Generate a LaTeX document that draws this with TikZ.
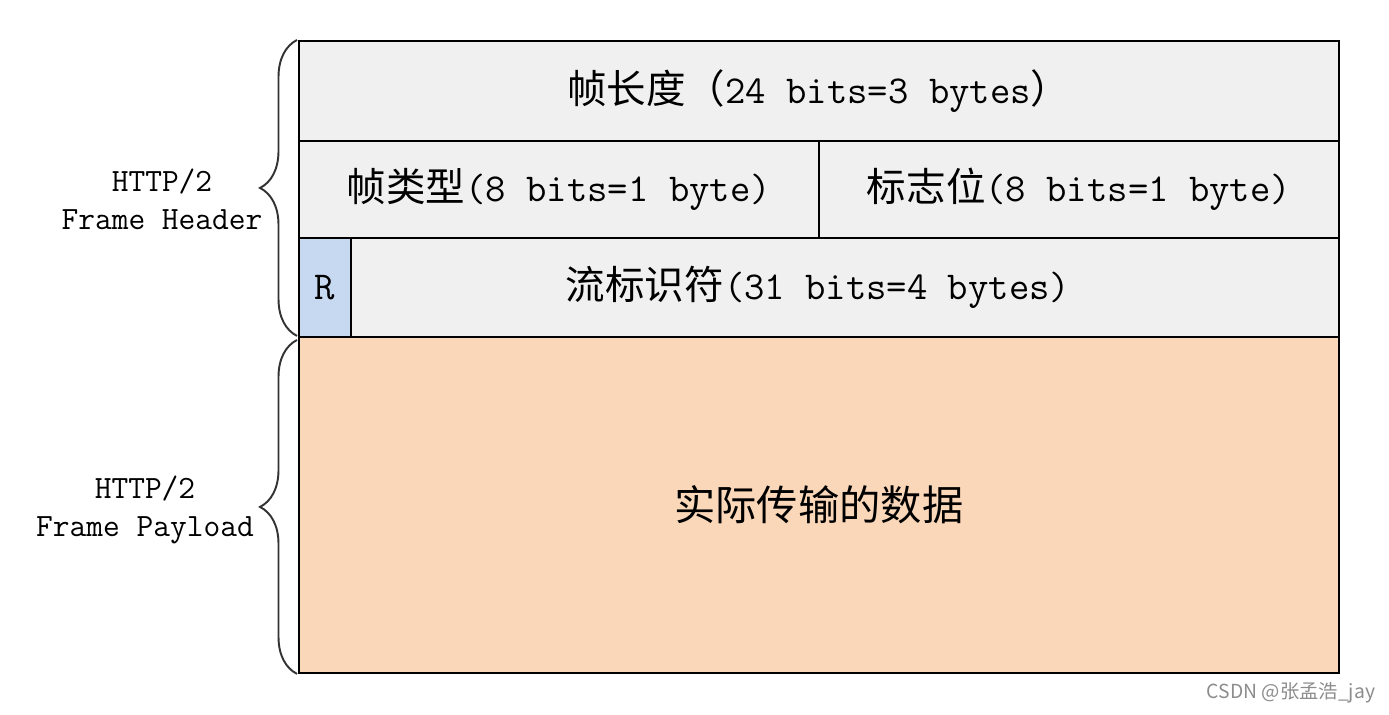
\documentclass[tikz,border=0pt]{standalone}
\usepackage{fontspec}
\newfontfamily\cjk{Noto Sans CJK SC}
\usetikzlibrary{decorations.pathreplacing}
\definecolor{fieldgray}{RGB}{240,240,240}
\definecolor{rblue}{RGB}{198,217,240}
\definecolor{payloadpeach}{RGB}{250,215,185}
\newcommand{\zh}[1]{{\cjk #1}}
\tikzset{
  field/.style={draw=black, line width=1.1pt, fill=fieldgray, inner sep=0pt, anchor=north west},
  fieldtext/.style={font=\ttfamily\fontsize{22.5}{26}\selectfont},
  hdrbrace/.style={decorate, decoration={brace, amplitude=0.74cm}, line width=1.1pt, draw=black!80},
  sidelabel/.style={align=center, font=\ttfamily\fontsize{18.5}{21.6}\selectfont},
}

\begin{document}
\begin{tikzpicture}[x=0.02cm, y=-0.02cm]
\useasboundingbox (0,0) rectangle (1389,715);
% frame header
\node[field, minimum width=20.8cm, minimum height=2cm] (len) at (298,40) {};
\node[field, minimum width=10.4cm, minimum height=1.94cm] (type) at (298,140) {};
\node[field, minimum width=10.4cm, minimum height=1.94cm] (flags) at (818,140) {};
\node[field, fill=rblue, minimum width=1.04cm, minimum height=1.98cm] (rbit) at (298,237) {};
\node[field, minimum width=19.76cm, minimum height=1.98cm] (sid) at (350,237) {};
% frame payload
\node[field, fill=payloadpeach, minimum width=20.8cm, minimum height=6.72cm] (data) at (298,336) {};
% texts
\node[fieldtext] (lentext) at (len.center) {\zh{帧长度（}24 bits=3 bytes\zh{）}};
\node[fieldtext] (typetext) at (type.center) {\zh{帧类型}(8 bits=1 byte)};
\node[fieldtext] (flagstext) at (flags.center) {\zh{标志位}(8 bits=1 byte)};
\node[fieldtext] (rtext) at (rbit.center) {R};
\node[fieldtext] (sidtext) at (818,287) {\zh{流标识符}(31 bits=4 bytes)};
\node[fieldtext, font=\cjk\fontsize{23.5}{26}\selectfont] (datatext) at (data.center) {实际传输的数据};
% braces
\draw[hdrbrace] ([xshift=-0.02cm, yshift=0.04cm]rbit.south west) -- ([xshift=-0.02cm]len.north west);
\draw[hdrbrace] ([xshift=-0.02cm]data.south west) -- ([xshift=-0.02cm, yshift=-0.08cm]data.north west);
\node[sidelabel] (hdrlabel) at (162,199) {HTTP/2\\Frame Header};
\node[sidelabel] (payloadlabel) at (145,510) {HTTP/2\\Frame Payload};
\node[font=\cjk\fontsize{11}{13}\selectfont, text=black!45] (mark) at (1291,693) {CSDN @张孟浩\_jay};
\end{tikzpicture}
\end{document}
